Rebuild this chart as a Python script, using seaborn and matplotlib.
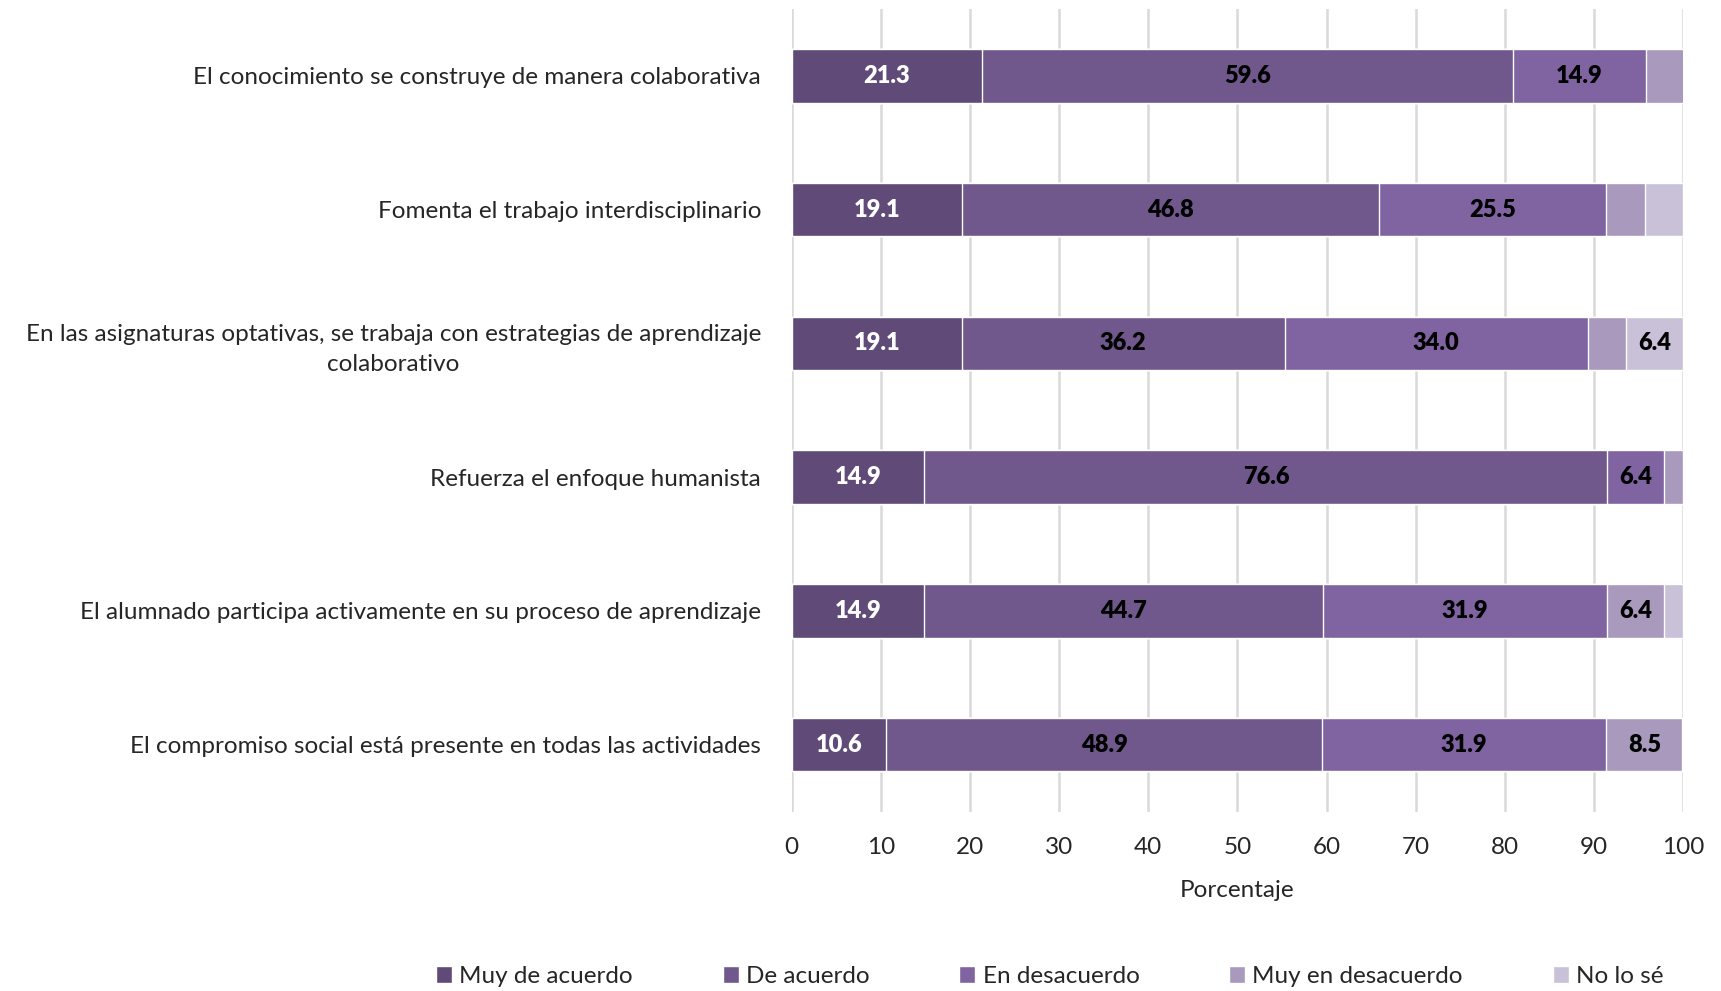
import pandas as pd
import numpy as np
import matplotlib.pyplot as plt
import seaborn as sns

# -----------------------------
# Data (percentages)
# -----------------------------
preguntas = [
    "El conocimiento se construye de manera colaborativa",
    "Fomenta el trabajo interdisciplinario",
    "En las asignaturas optativas, se trabaja con estrategias de aprendizaje\ncolaborativo",
    "Refuerza el enfoque humanista",
    "El alumnado participa activamente en su proceso de aprendizaje",
    "El compromiso social está presente en todas las actividades",
]
categorias = ["Muy de acuerdo", "De acuerdo", "En desacuerdo", "Muy en desacuerdo", "No lo sé"]

muy_de_acuerdo = [21.3, 19.1, 19.1, 14.9, 14.9, 10.6]
de_acuerdo = [59.6, 46.8, 36.2, 76.6, 44.7, 48.9]
en_desacuerdo = [14.9, 25.5, 34.0, 6.4, 31.9, 31.9]
muy_en_desacuerdo = [4.3, 4.3, 4.3, 2.1, 6.4, 8.5]
no_lo_se = [0.0, 4.3, 6.4, 0.0, 2.1, 0.0]

colores = ["#5f4a78", "#70588c", "#8064a2", "#a899bd", "#c9c1d8"]
color_texto = ["white", "black", "black", "black", "black"]

df = pd.DataFrame({
    "Pregunta": preguntas,
    "Muy de acuerdo": muy_de_acuerdo,
    "De acuerdo": de_acuerdo,
    "En desacuerdo": en_desacuerdo,
    "Muy en desacuerdo": muy_en_desacuerdo,
    "No lo sé": no_lo_se,
})
acum = df[categorias].cumsum(axis=1)

# -----------------------------
# Plot
# -----------------------------
sns.set_style("white")
plt.rcParams["font.family"] = ["Lato", "DejaVu Sans"]

fig, ax = plt.subplots(figsize=(17.21, 9.91), dpi=100)
fig.subplots_adjust(left=0.46, right=0.978, top=0.991, bottom=0.181)

# stacked bars: draw cumulative totals from longest to shortest
for cat, col in reversed(list(zip(categorias, colores))):
    sns.barplot(x=acum[cat], y=df["Pregunta"], orient="h", color=col,
                width=0.4, saturation=1, ax=ax, label=cat)
handles, labels = ax.get_legend_handles_labels()
if ax.get_legend() is not None:
    ax.get_legend().remove()

# segment labels
for j, cat in enumerate(categorias):
    for i in range(len(df)):
        val = df[cat].iloc[i]
        if val >= 5:
            ax.text(acum[cat].iloc[i] - val / 2, i, f"{val:.1f}",
                    ha="center", va="center", fontsize=17, fontweight="heavy",
                    color=color_texto[j])

ax.set_xlim(0, 100)
ax.set_ylim(5.5, -0.5)
ax.set_xticks(np.arange(0, 101, 10))
ax.xaxis.grid(True, color="#d9d9d9", linewidth=1.8)
ax.set_axisbelow(True)
sns.despine(ax=ax, left=True, bottom=True)
ax.tick_params(axis="x", length=0, labelsize=17.5, pad=18)
ax.tick_params(axis="y", length=0, labelsize=17.5, pad=22)
for lbl in ax.get_yticklabels():
    lbl.set_multialignment("center")
    lbl.set_linespacing(1.5)
ax.set_xlabel("Porcentaje", fontsize=17.5, labelpad=16)
ax.set_ylabel("")

# legend at the bottom, in category order
orden = [labels.index(c) for c in categorias]
fig.legend([handles[k] for k in orden], categorias, loc="lower center",
           bbox_to_anchor=(0.61, -0.018), ncol=5, frameon=False, fontsize=17.5,
           handlelength=0.65, handleheight=0.65, handletextpad=0.3, columnspacing=3.7)

plt.savefig("out.png", dpi=100)
